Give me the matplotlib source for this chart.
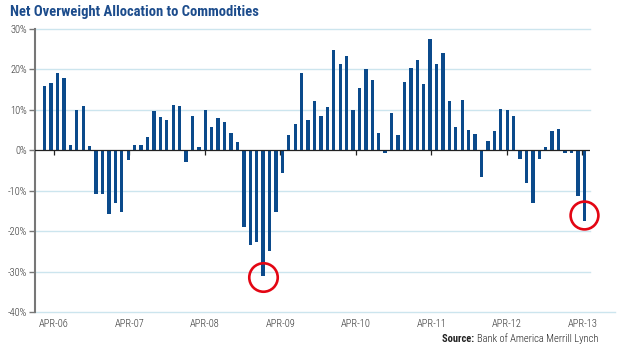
import matplotlib
matplotlib.use("Agg")
import matplotlib.pyplot as plt
import numpy as np

# ---- data ----
values = [15.8, 16.7, 19.1, 17.8, 1.4, 10.0, 10.9, 1.0, -10.9, -10.7, -15.8, -13.0, -15.2, -2.5,
          1.4, 1.4, 3.4, 9.7, 8.3, 7.4, 11.2, 10.9, -2.8, 8.6, 0.8, 9.9, 5.7, 7.9, 6.9,
          4.3, 2.0, -18.9, -23.4, -22.8, -31.1, -24.8, -15.3, -5.5, 3.7, 6.6, 19.1, 7.6, 12.2,
          8.6, 10.6, 24.9, 21.4, 23.4, 10.0, 15.5, 20.0, 17.4, 4.3, -0.6, 9.3, 3.7, 16.8,
          20.3, 22.3, 16.4, 27.5, 21.4, 24.0, 12.2, 5.7, 12.5, 5.0, 4.0, -6.7, 2.4, 4.7, 10.2,
          9.9, 8.6, -2.1, -8.0, -13.0, -2.1, 0.7, 4.7, 5.3, -0.6, -0.6, -11.2, -17.5]
tick_labels = ['APR-06', 'APR-07', 'APR-08', 'APR-09', 'APR-10', 'APR-11', 'APR-12', 'APR-13']
y_ticks = [30, 20, 10, 0, -10, -20, -30, -40]
highlight_idx = [34, 84]

title = "Net Overweight Allocation to Commodities"
source_bold = "Source: "
source_text = "Bank of America Merrill Lynch"

# ---- style ----
FONT = ['Roboto Condensed', 'DejaVu Sans']
bar_color = '#0b4a8b'
grid_color = '#cce5ee'
title_color = '#1c4c8c'

fig = plt.figure(figsize=(6.18, 3.5), dpi=100)
ax = fig.add_axes([35/618, 1-312/350, (590-35)/618, (312-29)/350])

x = np.arange(len(values))
ax.bar(x, values, width=0.52, color=bar_color, zorder=3)

ax.set_xlim(-1.51, 84.89)
ax.set_ylim(-40, 30)

for yv in y_ticks:
    if yv == -40:
        ax.axhline(yv, xmax=1.045, color=grid_color, lw=1.0, zorder=1, clip_on=False)
    elif yv != 0:
        ax.axhline(yv, color=grid_color, lw=1.0, zorder=1, clip_on=False)
ax.axhline(0, color='#222222', lw=0.9, zorder=4)

tick_pos = np.linspace(1.45, 83.7, len(tick_labels))
ax.vlines(tick_pos, -1.1, 0, color='#222222', lw=0.9, zorder=2)
ax.set_xticks(tick_pos)
ax.set_xticklabels(tick_labels, family=FONT, fontweight='light', fontsize=7.5, color='#333333')
ax.tick_params(axis='x', length=0, pad=5)

ax.set_yticks(y_ticks)
ax.set_yticklabels([f"{v}%" for v in y_ticks], family=FONT, fontweight='light', fontsize=7.5, color='#333333')
ax.tick_params(axis='y', length=4, width=1, color='#777777', pad=1.5)

for s in ['top', 'right', 'bottom']:
    ax.spines[s].set_visible(False)
ax.spines['left'].set_color('#777777')
ax.spines['left'].set_linewidth(1.5)

ax.plot([highlight_idx[0]], [values[highlight_idx[0]] - 0.2], marker='o', ms=20.5,
        mfc='none', mec='#e30613', mew=1.9, zorder=5, clip_on=False)
ax.plot([highlight_idx[1]], [values[highlight_idx[1]] + 1.4], marker='o', ms=20,
        mfc='none', mec='#e30613', mew=1.9, zorder=5, clip_on=False)

fig.text(10/618, 1-12/350, title, family=FONT, fontsize=10.5, fontweight='bold',
         color=title_color, ha='left', va='center')

t = fig.text(598/618, 1-339/350, source_text, family=FONT, fontweight='light', fontsize=7.6,
             color='#222222', ha='right', va='center')
ax.annotate(source_bold, xy=(0, 0.5), xycoords=t, ha='right', va='center',
            family=FONT, fontsize=7.6, fontweight='bold', color='#222222',
            annotation_clip=False)

fig.savefig('out.png', dpi=100)
